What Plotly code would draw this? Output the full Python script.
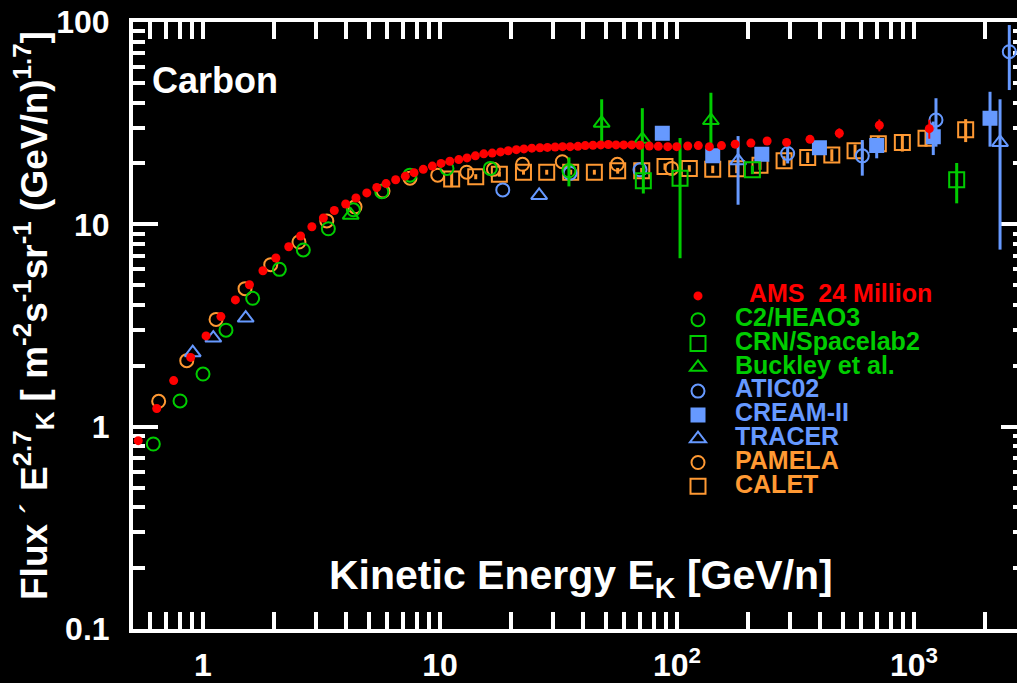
import plotly.graph_objects as go

# ---------------- data ----------------
ams_E = [0.533, 0.638, 0.752, 0.887, 1.03, 1.19, 1.37, 1.57, 1.79, 2.03, 2.30, 2.58, 2.88, 3.22,
         3.58, 4.00, 4.42, 4.91, 5.41, 5.92, 6.50, 7.14, 7.77, 8.50, 9.28, 10.1, 11.0, 12.0, 13.0,
         14.1, 15.3, 16.6, 18.0, 19.4, 21.0, 22.6, 24.4, 26.4, 28.4, 30.6, 32.9, 35.4, 38.2, 41.0,
         44.2, 47.7, 51.3, 55.3, 59.6, 64.4, 69.8, 76.4, 83.4, 91.4, 99.7, 111, 123, 137, 154, 176,
         205, 240, 290, 364, 484, 714, 1160]
ams_F = [0.853, 1.23, 1.69, 2.20, 2.81, 3.50, 4.23, 5.03, 5.90, 6.82, 7.75, 8.76, 9.73, 10.75,
         11.7, 12.6, 13.5, 14.3, 15.2, 15.9, 16.6, 17.3, 18.0, 18.7, 19.4, 20.0, 20.5, 20.9, 21.3,
         21.8, 22.3, 22.5, 22.8, 23.1, 23.4, 23.6, 23.8, 23.9, 24.0, 24.1, 24.2, 24.2, 24.3, 24.5,
         24.6, 24.7, 24.8, 24.7, 24.7, 24.7, 24.6, 24.4, 24.3, 24.2, 24.2, 24.4, 24.5, 24.2, 24.5,
         24.9, 25.2, 25.8, 25.4, 26.3, 28.2, 30.9, 29.7]
ams_err = [0, 0, 0, 0, 0, 0, 0, 0, 0, 0, 0, 0, 0, 0, 0, 0, 0, 0, 0, 0, 0, 0, 0, 0, 0, 0, 0, 0,
           0, 0, 0, 0, 0, 0, 0, 0, 0, 0, 0, 0, 0, 0, 0, 0, 0, 0, 0, 0, 0, 0, 0, 0, 0, 0, 0, 0,
           0, 0, 0, 0, 0, 0.3, 0.4, 0.6, 1.6, 2.1, 3.2]

heao_E = [0.617, 0.800, 1.00, 1.25, 1.62, 2.10, 2.65, 3.38, 4.31, 5.68, 7.47, 10.7, 16.3, 35.0]
heao_F = [0.821, 1.34, 1.82, 3.00, 4.31, 5.99, 7.47, 9.51, 11.8, 14.5, 17.5, 18.9, 18.9, 18.4]
heao_err = [0, 0, 0, 0, 0, 0, 0, 0, 0, 0, 0, 0, 0, 3.0]

crn_E = [72.1, 103, 208, 1514]
crn_F = [16.4, 16.9, 18.6, 16.6]
crn_up = [3.2, 9.8, 0.9, 3.5]
crn_dn = [2.2, 10.1, 0.9, 3.9]

buck_E = [4.20, 48.1, 71.4, 139]
buck_F = [11.1, 31.6, 26.3, 32.6]
buck_up = [0, 9.9, 11.2, 12.1]
buck_dn = [0, 6.0, 6.7, 7.4]

atic_E = [18.4, 35.4, 69.8, 293, 605, 1238, 2524]
atic_F = [14.8, 17.9, 18.6, 22.4, 21.8, 32.8, 71.3]
atic_up = [0, 0, 0, 1.8, 4.3, 9.2, 25.3]
atic_dn = [0, 0, 0, 2.4, 4.4, 8.6, 25.2]

cream_E = [86.7, 141.5, 228, 399, 696, 1206, 2093]
cream_F = [28.2, 21.8, 22.2, 23.9, 24.5, 27.1, 33.4]
cream_up = [0, 1.0, 0, 0, 2.1, 5.1, 11.8]
cream_dn = [0, 1.0, 0, 0, 3.3, 5.1, 9.2]

tracer_E = [0.905, 1.105, 1.514, 26.2, 181, 2307]
tracer_F = [2.32, 2.74, 3.44, 13.9, 20.6, 25.4]
tracer_up = [0, 0, 0, 0, 6.7, 16.1]
tracer_dn = [0, 0, 0, 0, 8.1, 17.9]

pamela_E = [0.650, 0.854, 1.135, 1.504, 1.931, 2.54, 3.33, 4.38, 5.75, 7.47, 9.78, 12.96, 16.8,
            22.3, 32.8, 56.0, 95.0]
pamela_F = [1.335, 2.12, 3.39, 4.81, 6.32, 8.18, 10.4, 12.2, 14.6, 16.9, 17.5, 18.1, 18.7,
            19.8, 20.4, 19.8, 18.9]

calet_E = [11.2, 14.15, 17.8, 22.5, 28.2, 35.6, 44.8, 56.2, 71.0, 89.0, 112.7, 141.5, 178.6,
           224, 283, 356, 450, 564, 707, 893, 1124, 1652]
calet_F = [16.75, 17.2, 17.7, 18.1, 18.1, 18.1, 18.1, 18.4, 18.4, 19.3, 18.9, 18.7, 18.8,
           19.6, 20.6, 21.4, 22.0, 23.1, 25.0, 25.4, 26.6, 29.3]
calet_err = [1.5, 0.5, 0.5, 0.5, 0.5, 0.5, 0.5, 0.6, 0.6, 0.7, 0.7, 0.8, 0.9, 1.0, 1.1, 1.3,
             1.5, 1.7, 2.0, 2.5, 2.4, 3.8]

x_tickvals = [1, 10, 100, 1000]
x_ticktext = ["1", "10", "10<sup>2</sup>", "10<sup>3</sup>"]
y_tickvals = [0.1, 1, 10, 100]
y_ticktext = ["0.1", "1", "10", "100"]

# ---------------- style ----------------
FONT = "Liberation Sans, Arial, sans-serif"
RED = "#ff0000"
GREEN = "#00cc00"
BLUE = "#6699ff"
ORANGE = "#ff9933"

fig = go.Figure()


def leg(text, color, indent=""):
    return '<span style="font-size:25px;color:%s">%s%s</span>' % (color, indent, text)


def add(name, E, F, up, dn, symbol, color, size, rank, thick=3, lw=2):
    err = None
    if up is not None:
        err = dict(type="data", array=up, arrayminus=dn, symmetric=False,
                   color=color, thickness=thick, width=0)
    fig.add_trace(go.Scatter(
        x=E, y=F, mode="markers", name=name, legendrank=rank, cliponaxis=False,
        marker=dict(symbol=symbol, size=size, color=color, line=dict(color=color, width=lw)),
        error_y=err, hoverinfo="x+y"))


add(leg("CALET", ORANGE), calet_E, calet_F, calet_err, calet_err, "square-open", ORANGE, 15, 9)
add(leg("PAMELA", ORANGE), pamela_E, pamela_F, None, None, "circle-open", ORANGE, 13, 8)
add(leg("TRACER", BLUE), tracer_E, tracer_F, tracer_up, tracer_dn, "triangle-up-open", BLUE, 14, 7)
add(leg("CREAM-II", BLUE), cream_E, cream_F, cream_up, cream_dn, "square", BLUE, 13, 6)
add(leg("ATIC02", BLUE), atic_E, atic_F, atic_up, atic_dn, "circle-open", BLUE, 13, 5)
add(leg("Buckley et al.", GREEN), buck_E, buck_F, buck_up, buck_dn, "triangle-up-open", GREEN, 14, 4)
add(leg("CRN/Spacelab2", GREEN), crn_E, crn_F, crn_up, crn_dn, "square-open", GREEN, 15, 3)
add(leg("C2/HEAO3", GREEN), heao_E, heao_F, heao_err, heao_err, "circle-open", GREEN, 13, 2)
add(leg("AMS&nbsp;&nbsp;24 Million", RED, "&nbsp;&nbsp;"), ams_E, ams_F, ams_err, ams_err,
    "circle", RED, 9, 1, thick=2, lw=0)

# right-hand tick axis (shorter visible ticks)
fig.add_trace(go.Scatter(x=[None], y=[None], yaxis="y2", showlegend=False, hoverinfo="skip"))

W, H = 1017, 683
L, T, B = 133, 22, 54
pw = W - L
ph = H - T - B

tickfont = dict(family=FONT, size=32, color="white", weight="bold")

fig.update_layout(
    width=W, height=H,
    margin=dict(l=L, r=0, t=T, b=B, pad=0, autoexpand=False),
    paper_bgcolor="black", plot_bgcolor="black",
    font=dict(family=FONT, color="white"),
    xaxis=dict(type="log", range=[-0.2954, 3.4346], showgrid=False, zeroline=False,
               showline=True, linecolor="white", linewidth=4, mirror="allticks",
               ticks="inside", ticklen=17, tickwidth=3.5, tickcolor="white",
               tickmode="array", tickvals=x_tickvals, ticktext=x_ticktext,
               tickfont=tickfont, ticklabelstandoff=5, automargin=False,
               layer="below traces",
               minor=dict(ticks="inside", ticklen=8, tickwidth=3.5, tickcolor="white",
                          dtick="D1", showgrid=False)),
    yaxis=dict(type="log", range=[-1, 2], showgrid=False, zeroline=False,
               showline=True, linecolor="white", linewidth=4, mirror=False,
               ticks="inside", ticklen=25, tickwidth=3.5, tickcolor="white",
               tickmode="array", tickvals=y_tickvals, ticktext=y_ticktext,
               tickfont=tickfont, ticklabelstandoff=13, automargin=False,
               layer="below traces",
               minor=dict(ticks="inside", ticklen=12, tickwidth=3.5, tickcolor="white",
                          dtick="D1", showgrid=False)),
    yaxis2=dict(type="log", range=[-1, 2], overlaying="y", side="right", showgrid=False,
                zeroline=False, showline=False, ticks="inside", ticklen=16, tickwidth=3.5,
                tickcolor="white", tickmode="array", tickvals=y_tickvals,
                showticklabels=False, automargin=False, layer="below traces",
                minor=dict(ticks="inside", ticklen=4, tickwidth=3.5, tickcolor="white",
                           dtick="D1", showgrid=False)),
    showlegend=True,
    legend=dict(xref="paper", yref="paper", x=(661 - L) / pw, y=(H - B - 279) / ph,
                xanchor="left", yanchor="top", bgcolor="rgba(0,0,0,0)", borderwidth=0,
                font=dict(family=FONT, size=16, color="white", weight="bold"),
                itemwidth=64, tracegroupgap=0, traceorder="normal", itemsizing="trace"),
)

fig.add_annotation(text="Carbon", xref="paper", yref="paper",
                   x=(150 - L) / pw, y=(H - B - 80) / ph, xanchor="left", yanchor="middle",
                   showarrow=False, font=dict(family=FONT, size=36, color="white", weight="bold"))

fig.add_annotation(text="Kinetic Energy E<sub>K</sub> [GeV/n]", xref="paper", yref="paper",
                   x=(327 - L) / pw, y=(H - B - 578) / ph, xanchor="left", yanchor="middle",
                   showarrow=False, font=dict(family=FONT, size=41, color="white", weight="bold"))

fig.add_annotation(
    text='Flux <span style="font-weight:normal">´</span> E<sup>2.7</sup><sub>K</sub> '
         '[ m<sup>-2</sup>s<sup>-1</sup>sr<sup>-1</sup> (GeV/n)<sup>1.7</sup>]',
    xref="paper", yref="paper", x=(33 - L) / pw, y=(H - B - 316) / ph,
    xanchor="center", yanchor="middle", textangle=-90, showarrow=False,
    font=dict(family=FONT, size=37, color="white", weight="bold"))

fig.write_html("out.html")
